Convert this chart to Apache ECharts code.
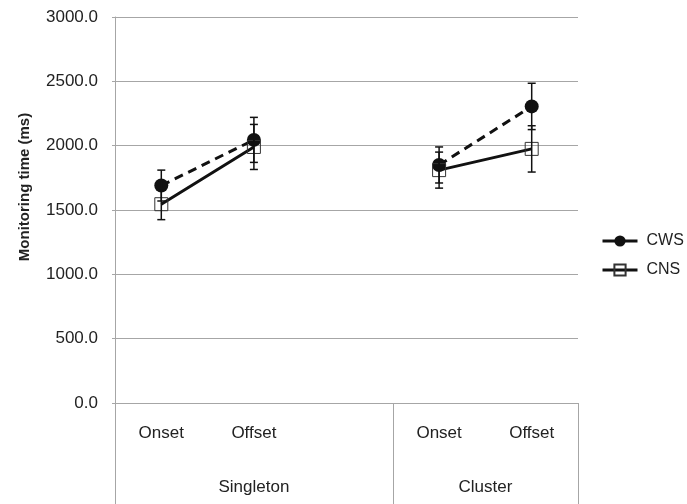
<!DOCTYPE html>
<html>
<head>
<meta charset="utf-8">
<script src="https://cdn.jsdelivr.net/npm/echarts@6/dist/echarts.min.js"></script>
<style>
  html, body { margin: 0; padding: 0; background: #fff; }
  #main { width: 687px; height: 504px; }
</style>
</head>
<body>
<div id="main"></div>
<script>
  // categories (blank slot keeps the two groups apart)
  var categories = ['Onset', 'Offset', '', 'Onset', 'Offset'];
  // group labels, one per tick of the boundary axis
  var groupLabels = ['', '', '', 'Singleton', '', '', '', '', 'Cluster', '', ''];
  var groupDividers = [0, 6, 10];
  var yTicks = [0, 500, 1000, 1500, 2000, 2500, 3000];

  var cws = [1690, 2045, null, 1850, 2305];
  var cns = [1545, 1990, null, 1810, 1975];
  var cwsErr = [120, 175, null, 140, 180];
  var cnsErr = [120, 175, null, 140, 180];

  var FONT = 'Liberation Sans, Arial, sans-serif';
  var GRID_COLOR = '#a6a6a6';
  var TEXT = '#222';

  function toLine(arr) {
    return arr.map(function (v) { return v == null ? '-' : v; });
  }
  function errData(vals, errs) {
    var out = [];
    vals.forEach(function (v, i) {
      if (v != null) out.push([i, v - errs[i], v + errs[i]]);
    });
    return out;
  }
  function renderErr(params, api) {
    var x = api.value(0);
    var lo = api.coord([x, api.value(1)]);
    var hi = api.coord([x, api.value(2)]);
    var hw = 4;
    var st = { stroke: '#111', lineWidth: 1.5 };
    return {
      type: 'group',
      children: [
        { type: 'line', shape: { x1: lo[0], y1: hi[1], x2: lo[0], y2: lo[1] }, style: st },
        { type: 'line', shape: { x1: lo[0] - hw, y1: hi[1], x2: lo[0] + hw, y2: hi[1] }, style: st },
        { type: 'line', shape: { x1: lo[0] - hw, y1: lo[1], x2: lo[0] + hw, y2: lo[1] }, style: st }
      ]
    };
  }

  var chart = echarts.init(document.getElementById('main'));
  var option = {
    animation: false,
    textStyle: { fontFamily: FONT },
    grid: { left: 115, right: 109, top: 17, bottom: 101, containLabel: false },
    legend: {
      orient: 'vertical',
      left: 601,
      top: 233,
      padding: 0,
      itemWidth: 35,
      itemHeight: 14,
      itemGap: 13,
      lineStyle: { type: 'solid', width: 3 },
      textStyle: { fontSize: 16, color: TEXT, fontFamily: FONT, padding: [0, 0, 0, 4] },
      data: ['CWS', 'CNS']
    },
    graphic: [{
      type: 'text',
      x: 25,
      y: 187,
      rotation: Math.PI / 2,
      style: {
        text: 'Monitoring time (ms)',
        font: 'bold 15px ' + FONT,
        fill: TEXT,
        align: 'center',
        verticalAlign: 'middle'
      }
    }],
    xAxis: [{
      type: 'category',
      position: 'bottom',
      data: categories,
      boundaryGap: true,
      axisLine: { show: true, lineStyle: { color: GRID_COLOR, width: 1 } },
      axisTick: { show: false },
      axisLabel: { interval: 0, margin: 22, fontSize: 17, color: TEXT }
    }, {
      type: 'category',
      position: 'bottom',
      offset: 0,
      data: groupLabels,
      boundaryGap: false,
      axisLine: { show: false },
      axisTick: {
        show: true,
        interval: function (i) { return groupDividers.indexOf(i) >= 0; },
        length: 101,
        lineStyle: { color: GRID_COLOR, width: 1 }
      },
      axisLabel: { interval: 0, margin: 76, fontSize: 17, color: TEXT },
      splitLine: { show: false }
    }],
    yAxis: {
      type: 'value',
      min: yTicks[0],
      max: yTicks[yTicks.length - 1],
      interval: 500,
      axisLine: { show: true, lineStyle: { color: GRID_COLOR, width: 1 } },
      axisTick: { show: true, length: 3, lineStyle: { color: GRID_COLOR } },
      axisLabel: {
        margin: 17,
        fontSize: 17,
        color: TEXT,
        formatter: function (v) { return v.toFixed(1); }
      },
      splitLine: { show: true, lineStyle: { color: GRID_COLOR, width: 1 } }
    },
    series: [{
      name: 'CWS',
      type: 'line',
      xAxisIndex: 0,
      data: toLine(cws),
      connectNulls: false,
      symbol: 'circle',
      symbolSize: 14,
      itemStyle: { color: '#111' },
      lineStyle: { color: '#111', width: 3, type: [9, 6] },
      z: 3
    }, {
      name: 'CNS',
      type: 'line',
      xAxisIndex: 0,
      data: toLine(cns),
      connectNulls: false,
      symbol: 'rect',
      symbolSize: 13,
      itemStyle: { color: 'rgba(255,255,255,0)', borderColor: '#333', borderWidth: 1 },
      lineStyle: { color: '#111', width: 3 },
      z: 4
    }, {
      name: 'CWS err',
      type: 'custom',
      xAxisIndex: 0,
      renderItem: renderErr,
      data: errData(cws, cwsErr),
      z: 5
    }, {
      name: 'CNS err',
      type: 'custom',
      xAxisIndex: 0,
      renderItem: renderErr,
      data: errData(cns, cnsErr),
      z: 5
    }]
  };
  chart.setOption(option);
</script>
</body>
</html>
